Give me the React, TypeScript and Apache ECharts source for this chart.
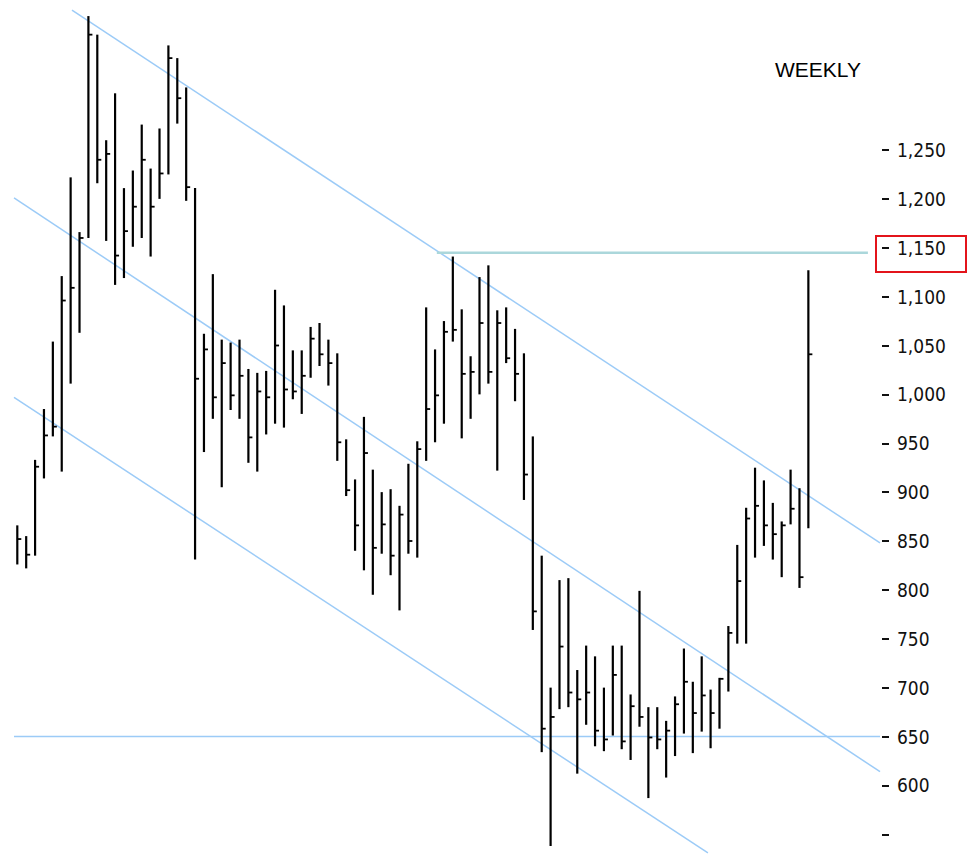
import React, { useEffect, useRef } from 'react';
import * as echarts from 'echarts';

// Weekly OHLC-style bars (high / low / close), oldest first
const highs = [
  866, 855, 933, 985, 1054, 1121, 1222, 1166, 1387, 1368,
  1260, 1308, 1211, 1229, 1276, 1231, 1272, 1357, 1344, 1314,
  1211, 1062, 1123, 1056, 1053, 1056, 1026, 1022, 1024, 1107,
  1091, 1045, 1045, 1069, 1073, 1056, 1042, 954, 913, 977,
  923, 900, 903, 886, 929, 952, 1089, 1046, 1075, 1141,
  1087, 1039, 1120, 1132, 1086, 1089, 1067, 1042, 957, 835,
  700, 810, 812, 718, 743, 732, 700, 743, 743, 693,
  799, 680, 680, 666, 691, 740, 706, 732, 698, 710,
  763, 846, 884, 925, 912, 889, 870, 923, 904, 1127,
];
const lows = [
  826, 822, 835, 914, 957, 921, 1011, 1063, 1160, 1216,
  1157, 1112, 1119, 1151, 1160, 1141, 1200, 1225, 1277, 1198,
  831, 941, 975, 905, 984, 975, 930, 921, 959, 970,
  966, 995, 980, 1017, 1029, 1009, 932, 896, 840, 820,
  795, 837, 815, 779, 837, 833, 932, 951, 970, 1054,
  955, 975, 1000, 1011, 922, 1032, 993, 892, 759, 634,
  538, 678, 680, 612, 662, 640, 635, 651, 637, 626,
  660, 587, 637, 608, 630, 653, 633, 655, 638, 658,
  696, 745, 745, 833, 845, 831, 813, 867, 802, 863,
];
const closes = [
  852, 836, 926, 958, 967, 1096, 1109, 1160, 1368, 1240,
  1246, 1142, 1167, 1192, 1240, 1192, 1226, 1344, 1303, 1212,
  1016, 1046, 997, 1032, 999, 1019, 956, 1003, 997, 1050,
  1005, 1003, 1019, 1057, 1041, 1032, 951, 902, 866, 940,
  843, 867, 835, 877, 850, 944, 985, 999, 1064, 1066,
  1021, 1023, 1073, 1023, 1073, 1037, 1021, 918, 778, 658,
  670, 742, 695, 688, 695, 656, 647, 713, 645, 681,
  670, 649, 647, 656, 683, 706, 674, 692, 674, 709,
  756, 809, 873, 886, 866, 857, 866, 883, 813, 1041,
];

// Trend lines: [week index, price] end points
const upperChannel = [[6.15, 1393], [97.06, 848]];
const middleChannel = [[-0.37, 1201], [97.06, 614]];
const lowerChannel = [[-0.37, 997], [77.7, 531]];
const supportLine = [[-0.37, 650], [97.06, 650]];
const resistanceLine = [[47.2, 1145], [95.7, 1145]];

// Price axis ticks
const axisMin = 550;
const axisMax = 1250;
const axisStep = 50;

const App: React.FC = () => {
  const ref = useRef<HTMLDivElement>(null);

  useEffect(() => {
    if (!ref.current) return;
    const chart = echarts.init(ref.current, undefined, { renderer: 'svg' });

    const barData = highs.map((h, i) => [i, h, lows[i], closes[i]]);

    const channelStyle = { color: '#9ccbf7', width: 1.5 };

    const lineSeries = (data: number[][], color: string, width: number) => ({
      type: 'line',
      xAxisIndex: 1,
      yAxisIndex: 1,
      data,
      showSymbol: false,
      symbol: 'none',
      silent: true,
      lineStyle: { color, width },
      z: 1,
    });

    chart.setOption({
      animation: false,
      backgroundColor: '#ffffff',
      grid: [
        { left: 0, right: 90, top: 150, height: 684.25 },
        { left: 0, top: 0, width: 972, height: 857 },
      ],
      xAxis: [
        { type: 'value', gridIndex: 0, show: false, min: 0, max: 1 },
        { type: 'value', gridIndex: 1, show: false, min: -1.946, max: 107.41 },
      ],
      yAxis: [
        {
          type: 'value',
          gridIndex: 0,
          position: 'right',
          min: axisMin,
          max: axisMax,
          interval: axisStep,
          splitLine: { show: false },
          axisLine: { show: false, onZero: false },
          axisTick: { show: true, length: 7, lineStyle: { color: '#111', width: 2 } },
          axisLabel: {
            margin: 15,
            color: '#111',
            fontSize: 19,
            fontFamily: "'DejaVu Sans Condensed', 'DejaVu Sans', sans-serif",
            formatter: (v: number) => (v === axisMin ? '' : v.toLocaleString('en-US')),
          },
        },
        { type: 'value', gridIndex: 1, show: false, min: 526.73, max: 1403.45 },
      ],
      graphic: [
        {
          type: 'text',
          left: 775,
          top: 59,
          style: {
            text: 'WEEKLY',
            fill: '#000',
            fontSize: 21,
            fontFamily: "'Liberation Sans', Arial, sans-serif",
          },
        },
        {
          type: 'rect',
          shape: { x: 876, y: 236, width: 90, height: 36 },
          style: { fill: 'none', stroke: '#e3141b', lineWidth: 2 },
          z: 10,
        },
      ],
      series: [
        lineSeries(upperChannel, channelStyle.color, channelStyle.width),
        lineSeries(middleChannel, channelStyle.color, channelStyle.width),
        lineSeries(lowerChannel, channelStyle.color, channelStyle.width),
        lineSeries(supportLine, channelStyle.color, channelStyle.width),
        lineSeries(resistanceLine, '#abd7db', 2.5),
        {
          type: 'custom',
          xAxisIndex: 1,
          yAxisIndex: 1,
          data: barData,
          z: 5,
          renderItem: (params: any, api: any) => {
            const i = api.value(0);
            const top = api.coord([i, api.value(1)]);
            const bot = api.coord([i, api.value(2)]);
            const c = api.coord([i, api.value(3)]);
            return {
              type: 'group',
              children: [
                {
                  type: 'line',
                  shape: { x1: top[0], y1: top[1], x2: bot[0], y2: bot[1] },
                  style: { stroke: '#000', lineWidth: 2.2 },
                },
                {
                  type: 'line',
                  shape: { x1: c[0], y1: c[1], x2: c[0] + 4, y2: c[1] },
                  style: { stroke: '#000', lineWidth: 1.8 },
                },
              ],
            };
          },
        },
      ],
    });

    return () => chart.dispose();
  }, []);

  return (
    <div
      ref={ref}
      style={{ position: 'absolute', left: 0, top: 0, width: 972, height: 857 }}
    />
  );
};

export default App;
